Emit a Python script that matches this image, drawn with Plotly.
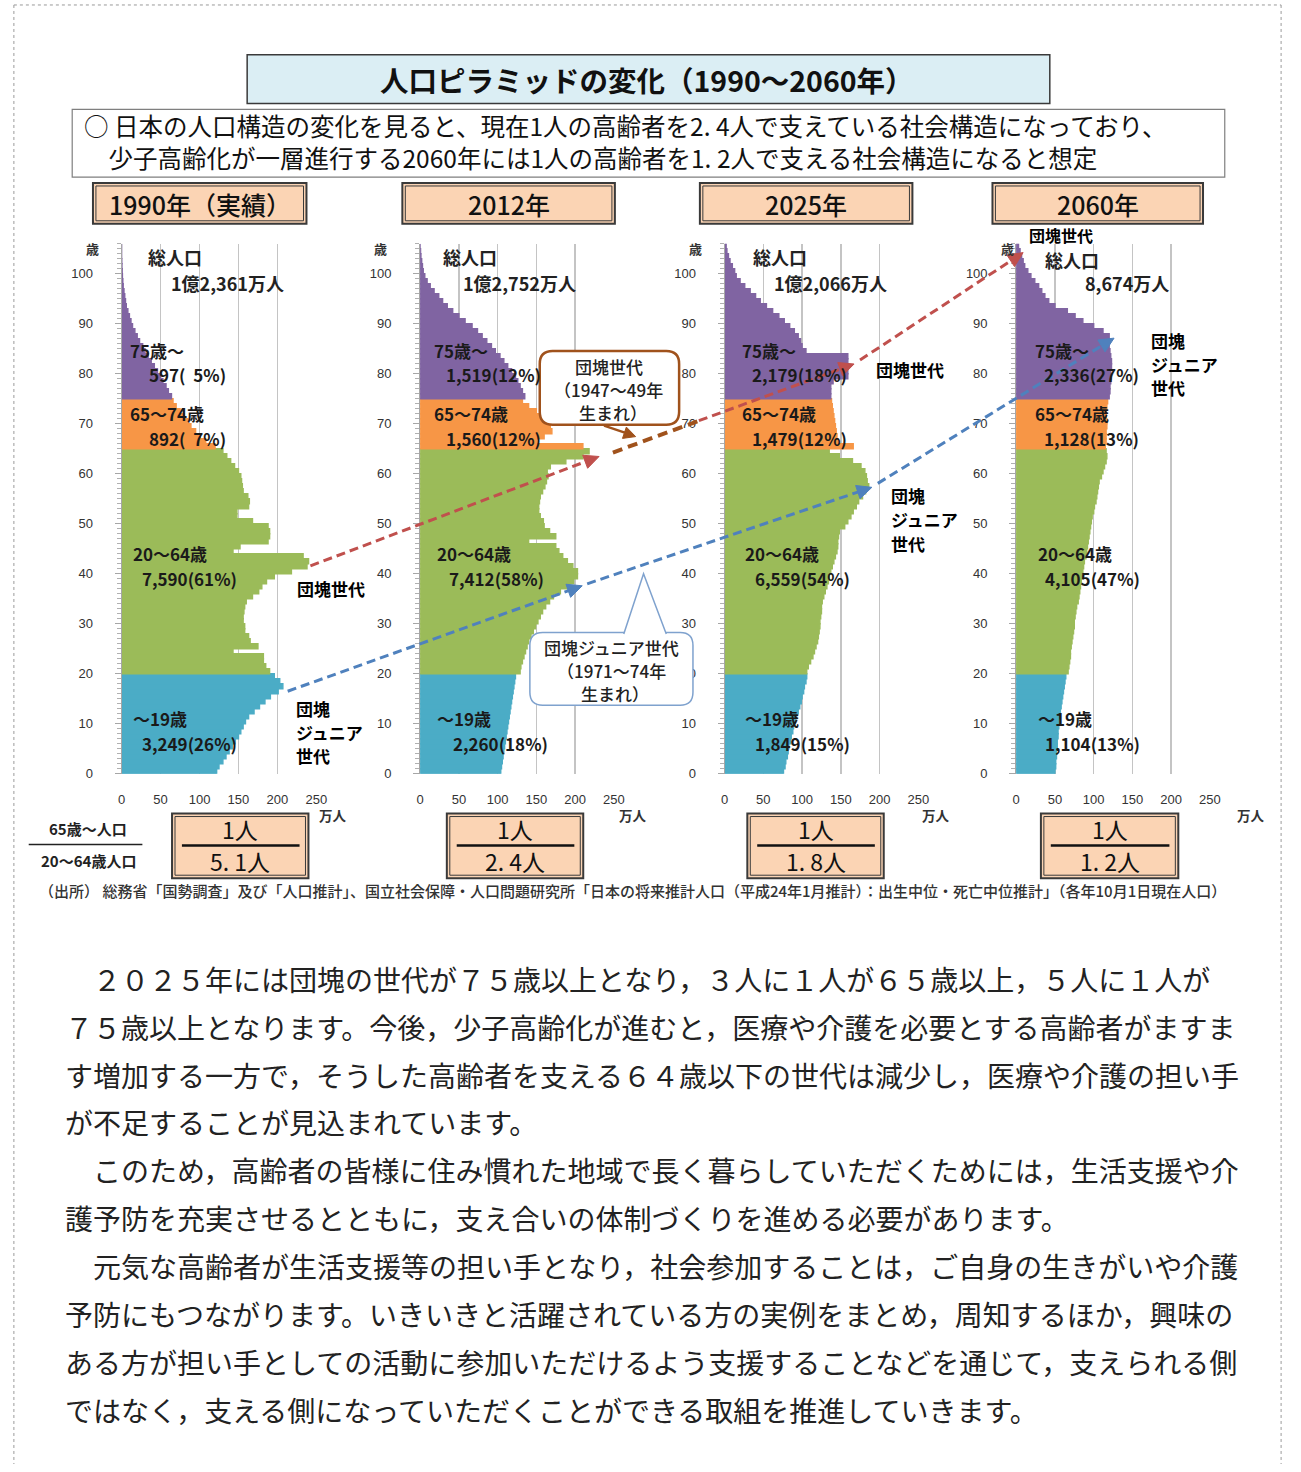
import plotly.graph_objects as go

W, H = 1301, 1472
FONT = "Noto Sans CJK JP"


def X(px):
    return px / W


def Y(py):
    return 1 - py / H


# ---------------- data (万人, by single year of age 0..105) ----------------
AGES = list(range(106))
YEARS = ["1990", "2012", "2025", "2060"]

pop_1990 = [
    122, 125, 130, 134, 138, 142, 146, 150, 153, 156,
    159, 163, 170, 177, 184, 191, 201, 207, 203, 196,
    190, 185, 182, 182, 143, 175, 165, 163, 158, 158,
    156, 156, 157, 158, 160, 168, 176, 180, 186, 196,
    218, 238, 240, 233, 143, 152, 188, 190, 190, 188,
    168, 148, 148, 163, 164, 162, 156, 155, 154, 153,
    150, 145, 140, 135, 130,
    120, 108, 101, 95, 89, 85, 80, 75, 70, 66,
    64, 60, 57, 53, 50, 46, 42, 38, 34, 30,
    27, 23, 20, 17, 14, 12, 10, 8, 6, 5,
    4, 3, 2, 1.5, 1, 0.7, 0.4, 0.2, 0, 0, 0,
]
pop_2012 = [
    104, 105, 106, 107, 108, 109, 110, 111, 112, 113,
    114, 115, 116, 117, 118, 119, 120, 121, 122, 123,
    129, 130, 132, 134, 136, 138, 140, 143, 146, 149,
    152, 155, 158, 162, 167, 172, 181, 190, 198, 203,
    203, 197, 190, 184, 179, 175, 140, 175, 167, 160,
    159, 155, 153, 153, 154, 155, 158, 161, 163, 165,
    164, 168, 188, 210, 218,
    210, 150, 160, 170, 168, 165, 160, 150, 140, 132,
    135, 132, 129, 126, 123, 118, 113, 108, 103, 97,
    92, 86, 80, 74, 67, 58, 50, 42, 35, 29,
    24, 18, 13, 9, 6, 4, 3, 2, 1, 0.5, 0,
]
pop_2025 = [
    76, 78, 79, 81, 82, 83, 85, 86, 88, 89,
    91, 93, 95, 97, 99, 100, 102, 103, 105, 106,
    106, 108, 111, 114, 116, 118, 120, 121, 122, 123,
    123, 124, 125, 125, 126, 128, 130, 132, 134, 135,
    137, 139, 141, 143, 145, 146, 146, 147, 148, 155,
    159, 163, 166, 170, 173, 178, 182, 186, 184, 183,
    181, 176, 165, 148, 135,
    166, 146, 145, 144, 143, 142, 141, 140, 139, 138,
    137, 137, 137, 140, 159, 159, 159, 159, 159, 105,
    100, 98, 95, 90, 84, 77, 70, 62, 54, 46,
    40, 33, 26, 20, 15, 13, 10, 7, 5, 3, 2,
]
pop_2060 = [
    50, 51, 51, 52, 52, 53, 53, 54, 54, 55,
    55, 56, 57, 58, 59, 60, 61, 62, 63, 64,
    67, 68, 69, 70, 70, 71, 72, 73, 74, 75,
    75, 76, 77, 78, 80, 81, 82, 83, 84, 85,
    86, 87, 88, 90, 91, 92, 93, 94, 95, 96,
    97, 98, 100, 101, 103, 104, 105, 106, 107, 110,
    112, 114, 116, 117, 116,
    115, 116, 116, 116, 117, 117, 116, 116, 117, 118,
    120, 121, 121, 122, 122, 122, 123, 123, 122, 121,
    120, 120, 120, 112, 100, 86, 76, 66, 50, 42,
    37, 33, 29, 24, 19, 15, 11, 9, 7, 5, 3,
]
POPS = [pop_1990, pop_2012, pop_2025, pop_2060]

GROUP_BOUNDS = [(0, 20), (20, 65), (65, 75), (75, 106)]
GROUP_NAMES = ["～19歳", "20～64歳", "65～74歳", "75歳～"]
GROUP_COLORS = ["#4BACC6", "#9BBB59", "#F79646", "#8064A2"]

YEAR_TITLES = ["1990年（実績）", "2012年", "2025年", "2060年"]
TOTALS = ["1億2,361万人", "1億2,752万人", "1億2,066万人", "8,674万人"]
LAB_0_19 = ["3,249(26%)", "2,260(18%)", "1,849(15%)", "1,104(13%)"]
LAB_20_64 = ["7,590(61%)", "7,412(58%)", "6,559(54%)", "4,105(47%)"]
LAB_65_74 = ["892(  7%)", "1,560(12%)", "1,479(12%)", "1,128(13%)"]
LAB_75 = ["597(  5%)", "1,519(12%)", "2,179(18%)", "2,336(27%)"]
RATIO = ["5. 1人", "2. 4人", "1. 8人", "1. 2人"]
X_TICKS = [0, 50, 100, 150, 200, 250]
Y_TICKS = [0, 10, 20, 30, 40, 50, 60, 70, 80, 90, 100]

SUBTITLE = [
    "○ 日本の人口構造の変化を見ると、現在1人の高齢者を2. 4人で支えている社会構造になっており、",
    "　少子高齢化が一層進行する2060年には1人の高齢者を1. 2人で支える社会構造になると想定",
]

PARAGRAPH = [
    "　２０２５年には団塊の世代が７５歳以上となり，３人に１人が６５歳以上，５人に１人が",
    "７５歳以上となります。今後，少子高齢化が進むと，医療や介護を必要とする高齢者がますま",
    "す増加する一方で，そうした高齢者を支える６４歳以下の世代は減少し，医療や介護の担い手",
    "が不足することが見込まれています。",
    "　このため，高齢者の皆様に住み慣れた地域で長く暮らしていただくためには，生活支援や介",
    "護予防を充実させるとともに，支え合いの体制づくりを進める必要があります。",
    "　元気な高齢者が生活支援等の担い手となり，社会参加することは，ご自身の生きがいや介護",
    "予防にもつながります。いきいきと活躍されている方の実例をまとめ，周知するほか，興味の",
    "ある方が担い手としての活動に参加いただけるよう支援することなどを通じて，支えられる側",
    "ではなく，支える側になっていただくことができる取組を推進していきます。",
]

# ---------------- layout geometry (pixels) ----------------
PYR_L = [119, 421, 729, 1024]
PYR_R = [316, 617, 925, 1220]
PLOT_TOP, PLOT_BOT = 245, 778
YEAR_BOX = [(90, 306), (403, 618), (704, 919), (1000, 1213)]
RATIO_BOX = [(170, 308), (448, 586), (752, 890), (1049, 1188)]

fig = go.Figure()
layout = dict(
    width=W, height=H, margin=dict(l=0, r=0, t=0, b=0),
    paper_bgcolor="white", plot_bgcolor="rgba(0,0,0,0)",
    barmode="overlay", showlegend=False,
    font=dict(family=FONT, color="#222"),
)

for i, pop in enumerate(POPS):
    sfx = "" if i == 0 else str(i + 1)
    for (lo, hi), col, name in zip(GROUP_BOUNDS, GROUP_COLORS, GROUP_NAMES):
        fig.add_trace(go.Bar(
            orientation="h", x=pop[lo:hi], y=[a + 0.5 for a in AGES[lo:hi]],
            width=1, name=name, marker=dict(color=col, line=dict(width=1.4, color=col)),
            xaxis="x" + sfx, yaxis="y" + sfx, hoverinfo="skip",
        ))
    layout["xaxis" + sfx] = dict(
        domain=[X(PYR_L[i]), X(PYR_R[i])], range=[0, 250], anchor="y" + sfx,
        tickvals=X_TICKS, showgrid=True, gridcolor="#C4C4C4", gridwidth=1.5,
        zeroline=False, showline=False, ticks="", ticklabelstandoff=16,
        tickfont=dict(size=13, color="#333", family="Liberation Sans"), fixedrange=True,
    )
    layout["yaxis" + sfx] = dict(
        domain=[Y(PLOT_BOT), Y(PLOT_TOP)], range=[0, 106], anchor="x" + sfx,
        tickvals=Y_TICKS, showgrid=False, zeroline=False,
        showline=True, linecolor="#A6A6A6", linewidth=1,
        ticks="outside", ticklen=6, tickcolor="#A6A6A6",
        minor=dict(dtick=1, ticks="outside", ticklen=4, tickcolor="#B0B0B0"),
        ticklabelstandoff=19,
        tickfont=dict(size=13, color="#333", family="Liberation Sans"), fixedrange=True,
    )

shapes = []
annotations = []


def ann(px, py, text, size=16, weight=400, color="#222", xanchor="center",
        yanchor="middle", family=FONT, align="center"):
    annotations.append(dict(
        x=X(px), y=Y(py), xref="paper", yref="paper", text=text, showarrow=False,
        xanchor=xanchor, yanchor=yanchor, borderpad=0, align=align,
        font=dict(size=size, color=color, family=family, weight=weight),
    ))


def rect(x0, y0, x1, y1, fill=None, line="#404040", width=1.0, dash="solid"):
    shapes.append(dict(
        type="rect", xref="paper", yref="paper", x0=X(x0), x1=X(x1), y0=Y(y0), y1=Y(y1),
        fillcolor=fill if fill else "rgba(0,0,0,0)",
        line=dict(color=line, width=width, dash=dash),
    ))


def seg(x0, y0, x1, y1, color, width, dash="solid"):
    shapes.append(dict(
        type="line", xref="paper", yref="paper", x0=X(x0), y0=Y(y0), x1=X(x1), y1=Y(y1),
        line=dict(color=color, width=width, dash=dash),
    ))


def head(x0, y0, x1, y1, color, length=15, half=7):
    dx, dy = x1 - x0, y1 - y0
    n = (dx * dx + dy * dy) ** 0.5
    ux, uy = dx / n, dy / n
    bx, by = x1 - ux * length, y1 - uy * length
    px_, py_ = -uy, ux
    pts = [(x1, y1), (bx + px_ * half, by + py_ * half), (bx - px_ * half, by - py_ * half)]
    path = "M " + " L ".join(f"{X(a):.5f},{Y(b):.5f}" for a, b in pts) + " Z"
    shapes.append(dict(type="path", xref="paper", yref="paper", path=path,
                       fillcolor=color, line=dict(color=color, width=1)))


def arrow(x0, y0, x1, y1, color, width=3, dash="9px,5px", hd=True):
    if hd:
        dx, dy = x1 - x0, y1 - y0
        n = (dx * dx + dy * dy) ** 0.5
        ex, ey = x1 - dx / n * 10, y1 - dy / n * 10
        seg(x0, y0, ex, ey, color, width, dash)
        head(x0, y0, x1, y1, color)
    else:
        seg(x0, y0, x1, y1, color, width, dash)


def rrect_path(x0, y0, x1, y1, r):
    pts = [
        ("M", x0 + r, y0), ("L", x1 - r, y0), ("Q", x1, y0, x1, y0 + r),
        ("L", x1, y1 - r), ("Q", x1, y1, x1 - r, y1), ("L", x0 + r, y1),
        ("Q", x0, y1, x0, y1 - r), ("L", x0, y0 + r), ("Q", x0, y0, x0 + r, y0),
    ]
    out = []
    for p in pts:
        cmd = p[0]
        coords = p[1:]
        cs = []
        for k in range(0, len(coords), 2):
            cs.append(f"{X(coords[k]):.5f},{Y(coords[k + 1]):.5f}")
        out.append(cmd + " " + " ".join(cs))
    return " ".join(out) + " Z"


# outer dotted frame
seg(10, 5, 1292, 5, "#9A9A9A", 1, "dot")
seg(10, 5, 10, 1472, "#9A9A9A", 1, "dot")
seg(1292, 5, 1292, 1472, "#9A9A9A", 1, "dot")

# title box
rect(246, 55, 1058, 104, fill="#DBEEF4", line="#3A3A3A", width=1.5)
ann(651, 80, "人口ピラミッドの変化（1990～2060年）", size=28.5, weight=700, color="#111")

# subtitle box
rect(69, 110, 1235, 178, fill="white", line="#7F7F7F", width=1.2)
ann(80, 142, "<br>".join(SUBTITLE), size=24.5, xanchor="left", color="#111", align="left")

# year boxes
for (x0, x1), t in zip(YEAR_BOX, YEAR_TITLES):
    rect(x0, 184, x1, 225, fill="#FBD4B4", line="#3A3A3A", width=2)
    rect(x0 + 3, 187, x1 - 3, 222, line="#3A3A3A", width=1)
    ann((x0 + x1) / 2, 205, t, size=25, weight=500, color="#111")

# pyramid texts
TOT_L = [145, 443, 757, 1052]
TOTV_L = [168, 463, 778, 1093]
G1_L = [126, 434, 746, 1042]
V1_L = [146, 446, 756, 1051]
V2_L = [139, 449, 759, 1052]
V3_L = [139, 453, 759, 1052]
AXIS_LABEL_X = [90, 381, 700, 1015]
MAN_X = [333, 636, 943, 1262]
TOT_Y = [258, 258, 258, 261]
for i in range(4):
    ann(TOT_L[i], TOT_Y[i], "総人口", size=18, weight=700, xanchor="left")
    ann(TOTV_L[i], 285, TOTALS[i], size=18, weight=700, xanchor="left")
    ann(G1_L[i], 352, GROUP_NAMES[3], size=17, weight=700, xanchor="left", color="#1a1a1a")
    ann(V1_L[i], 377, LAB_75[i], size=17, weight=700, xanchor="left", color="#1a1a1a")
    ann(G1_L[i], 416, GROUP_NAMES[2], size=17, weight=700, xanchor="left", color="#1a1a1a")
    ann(V1_L[i], 441, LAB_65_74[i], size=17, weight=700, xanchor="left", color="#1a1a1a")
    ann(G1_L[i] + 3, 557, GROUP_NAMES[1], size=17, weight=700, xanchor="left", color="#1a1a1a")
    ann(V2_L[i], 582, LAB_20_64[i], size=17, weight=700, xanchor="left", color="#1a1a1a")
    ann(G1_L[i] + 3, 722, GROUP_NAMES[0], size=17, weight=700, xanchor="left", color="#1a1a1a")
    ann(V3_L[i], 748, LAB_0_19[i], size=17, weight=700, xanchor="left", color="#1a1a1a")
    ann(AXIS_LABEL_X[i], 250, "歳", size=13, weight=700, color="#333")
    ann(MAN_X[i], 819, "万人", size=13.5, weight=700, color="#333")

# generation arrows
RED, BLUE, BROWN = "#C0504D", "#4F81BD", "#A0521C"
arrow(310, 569, 602, 459, RED)
seg(616, 455, 703, 423, BROWN, 4, "10px,6px")
arrow(703, 423, 860, 366, RED)
arrow(866, 362, 1031, 254, RED)
arrow(287, 695, 585, 589, BLUE)
arrow(590, 587, 878, 490, BLUE)
arrow(884, 486, 1123, 340, BLUE)

# callout: 団塊世代
shapes.append(dict(type="path", xref="paper", yref="paper",
                   path=rrect_path(542, 353, 683, 427, 13), fillcolor="white",
                   line=dict(color="#A0521C", width=2.5)))
seg(607, 428, 628, 435, "#A0521C", 2.5)
head(607, 428, 639, 439, "#A0521C", length=12, half=6)
ann(612, 369, "団塊世代", size=17, weight=500)
ann(612, 392, "（1947～49年", size=17, weight=500)
ann(616, 415, "生まれ）", size=17, weight=500)

# callout: 団塊ジュニア世代
shapes.append(dict(type="path", xref="paper", yref="paper",
                   path=rrect_path(532, 636, 697, 709, 13), fillcolor="white",
                   line=dict(color="#7FA2CE", width=1.5)))
tri = [(627, 637.5), (647, 577), (670, 637.5)]
shapes.append(dict(type="path", xref="paper", yref="paper",
                   path="M " + " L ".join(f"{X(a):.5f},{Y(b):.5f}" for a, b in tri),
                   fillcolor="white", line=dict(color="#7FA2CE", width=1.5)))
ann(615, 651, "団塊ジュニア世代", size=17, weight=500)
ann(615, 674, "（1971～74年", size=17, weight=500)
ann(618, 697, "生まれ）", size=17, weight=500)

# black generation labels
ann(295, 592, "団塊世代", size=17, weight=700, xanchor="left", color="#000")
for k, t in enumerate(["団塊", "ジュニア", "世代"]):
    ann(294, 712 + 24 * k, t, size=17, weight=700, xanchor="left", color="#000")
ann(881, 372, "団塊世代", size=17, weight=700, xanchor="left", color="#000")
for k, t in enumerate(["団塊", "ジュニア", "世代"]):
    ann(896, 498 + 24 * k, t, size=17, weight=700, xanchor="left", color="#000")
ann(1036, 236, "団塊世代", size=16, weight=700, xanchor="left", color="#000")
for k, t in enumerate(["団塊", "ジュニア", "世代"]):
    ann(1159, 342 + 24 * k, t, size=17, weight=700, xanchor="left", color="#000")

# ratio row
ann(85, 833, "65歳～人口", size=15, weight=700, color="#222")
seg(25, 849, 140, 849, "#222", 1.5)
ann(85, 865, "20～64歳人口", size=15, weight=700, color="#222")
for (x0, x1), r in zip(RATIO_BOX, RATIO):
    rect(x0, 818, x1, 883, fill="#FBD4B4", line="#3A3A3A", width=2)
    rect(x0 + 3, 821, x1 - 3, 880, line="#3A3A3A", width=1)
    seg(x0 + 10, 850, x1 - 9, 850, "#111", 2.5)
    ann((x0 + x1) / 2, 834, "1人", size=23, color="#111")
    ann((x0 + x1) / 2, 866, r, size=23, color="#111")

ann(34, 895, "（出所） 総務省「国勢調査」及び「人口推計」、国立社会保障・人口問題研究所「日本の将来推計人口（平成24年1月推計）：出生中位・死亡中位推計」（各年10月1日現在人口）",
    size=15, weight=500, xanchor="left", color="#333")

# paragraph
for k, line in enumerate(PARAGRAPH):
    ann(61, 984 + 48.2 * k, line, size=28, xanchor="left", color="#222")

layout["shapes"] = shapes
layout["annotations"] = annotations
fig.update_layout(**layout)

fig.write_html(
    "out.html", include_plotlyjs=True, full_html=True,
    config={"displayModeBar": False, "staticPlot": True},
    post_script="document.body.style.margin='0';document.body.style.overflow='hidden';",
)
